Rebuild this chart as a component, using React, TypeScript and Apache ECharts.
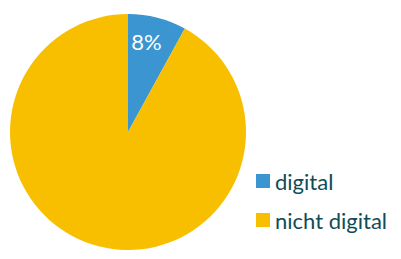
import React, { useEffect, useRef } from "react";
import * as echarts from "echarts";

const categories = ["digital", "nicht digital"];
const values = [8, 92];
const colors = ["#3a95d0", "#f8bf00"];

export default function App() {
  const ref = useRef<HTMLDivElement>(null);
  useEffect(() => {
    const chart = echarts.init(ref.current!, null, { renderer: "svg" });
    chart.setOption({
      animation: false,
      legend: {
        orient: "vertical",
        left: 251,
        top: 165,
        itemWidth: 14,
        itemHeight: 14,
        itemGap: 17,
        icon: "rect",
        data: categories,
        textStyle: { fontFamily: "Lato", fontSize: 22, color: "#0f4c57" },
      },
      series: [
        {
          type: "pie",
          center: [128, 132],
          radius: 118,
          startAngle: 90,
          clockwise: true,
          data: categories.map((c, i) => ({ name: c, value: values[i], itemStyle: { color: colors[i] } })),
          label: {
            show: true,
            position: "inside",
            formatter: (p: any) => (p.dataIndex === 0 ? p.value + "%" : ""),
            color: "#ffffff",
            fontFamily: "Lato",
            fontSize: 22,
          },
          labelLayout: (p: any) => (p.dataIndex === 0 ? { dx: 3, dy: -30 } : {}),
          labelLine: { show: false },
          emphasis: { disabled: true },
        },
      ],
    });
    return () => chart.dispose();
  }, []);
  return <div ref={ref} style={{ width: 401, height: 259, position: "absolute", left: 0, top: 0 }} />;
}
